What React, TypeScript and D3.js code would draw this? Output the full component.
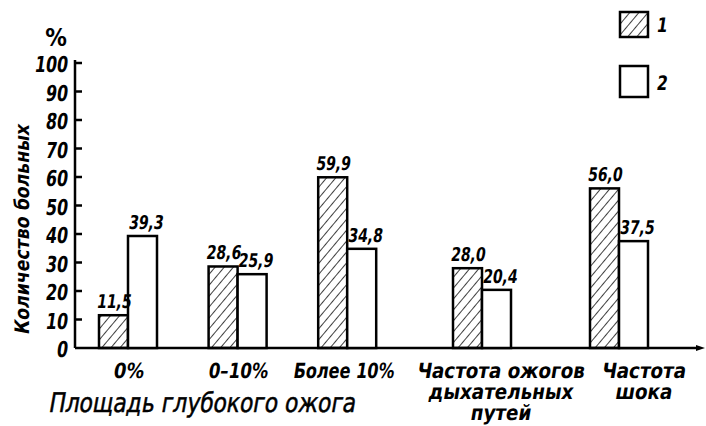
import React from "react";
import * as d3 from "d3";

const categories: string[][] = [
  ["0%"],
  ["0–10%"],
  ["Более 10%"],
  ["Частота ожогов", "дыхательных", "путей"],
  ["Частота", "шока"],
];
const groupSlots = [0, 1, 2, 3.23, 4.48];
const series1 = [11.5, 28.6, 59.9, 28.0, 56.0];
const series2 = [39.3, 25.9, 34.8, 20.4, 37.5];
const valueLabels1 = ["11,5", "28,6", "59,9", "28,0", "56,0"];
const valueLabels2 = ["39,3", "25,9", "34,8", "20,4", "37,5"];
const yTicks = [0, 10, 20, 30, 40, 50, 60, 70, 80, 90, 100];
const legendLabels = ["1", "2"];
const yTitle = "Количество больных";
const xTitle = "Площадь глубокого ожога";

const W = 706;
const H = 426;
const FONT = "'DejaVu Sans Condensed', 'DejaVu Sans', sans-serif";

function SText(props: {
  x: number;
  y: number;
  sx: number;
  size: number;
  anchor?: string;
  bold?: boolean;
  children: React.ReactNode;
}) {
  const { x, y, sx, size, anchor = "middle", bold = true, children } = props;
  return (
    <text
      x={0}
      y={0}
      transform={`translate(${x},${y}) scale(${sx},1) skewX(-10)`}
      textAnchor={anchor}
      fontSize={size}
      fontWeight={bold ? "bold" : "normal"}
    >
      {children}
    </text>
  );
}

export default function App() {
  const y = d3.scaleLinear().domain([0, 100]).range([348, 63]);
  const x = d3.scaleLinear().domain([0, 4.48]).range([128, 619]);
  const sub = d3.scaleBand<string>().domain(["1", "2"]).range([-29, 29]).padding(0);
  const bw = sub.bandwidth();
  const axisX = 75;
  const y0 = y(0);

  const labelDx = [0, 0, -4, 18, 24];
  const labelSx = [0.95, 0.88, 0.85, 0.97, 0.97];

  return (
    <svg
      width={W}
      height={H}
      style={{ position: "absolute", left: 0, top: 0, background: "#fff" }}
      fontFamily={FONT}
    >
      <defs>
        <pattern id="hatch" patternUnits="userSpaceOnUse" width={7} height={7} patternTransform="rotate(40)">
          <line x1={0} y1={0} x2={0} y2={7} stroke="#000" strokeWidth={1.5} />
        </pattern>
      </defs>

      {/* y axis */}
      <line x1={axisX} x2={axisX} y1={y(100) - 3} y2={y0} stroke="#000" strokeWidth={2.5} />
      {yTicks.map((t) => (
        <g key={t}>
          {t > 0 && (
            <line x1={axisX} x2={axisX + 7} y1={y(t)} y2={y(t)} stroke="#000" strokeWidth={2.5} />
          )}
          <SText x={67} y={y(t) + 9} sx={0.8} size={22} anchor="end">
            {t}
          </SText>
        </g>
      ))}
      <text x={56} y={46} textAnchor="middle" fontSize={24} fontWeight="bold">
        %
      </text>

      {/* x axis */}
      <line x1={axisX} x2={W - 8} y1={y0} y2={y0} stroke="#000" strokeWidth={2.5} />
      <path d={`M${W - 1},${y0} L${W - 10},${y0 - 3} L${W - 10},${y0 + 3} Z`} fill="#000" />

      {/* bars */}
      {series1.map((v, i) => {
        const cx = x(groupSlots[i]);
        const v2 = series2[i];
        const x1 = cx + (sub("1") as number);
        const x2 = cx + (sub("2") as number);
        return (
          <g key={i}>
            <rect x={x1} y={y(v)} width={bw} height={y0 - y(v)} fill="url(#hatch)" stroke="#000" strokeWidth={2.5} />
            <rect x={x2} y={y(v2)} width={bw} height={y0 - y(v2)} fill="#fff" stroke="#000" strokeWidth={2.5} />
            <SText x={x1 + bw / 2} y={y(v) - 7} sx={0.82} size={19}>
              {valueLabels1[i]}
            </SText>
            <SText x={x2 + bw / 2 + 3} y={y(v2) - 7} sx={0.82} size={19}>
              {valueLabels2[i]}
            </SText>
            {categories[i].map((line, j) => (
              <SText key={j} x={cx + labelDx[i]} y={y0 + 30 + j * 21} sx={labelSx[i]} size={21}>
                {line}
              </SText>
            ))}
          </g>
        );
      })}

      {/* axis titles */}
      <text
        transform={`translate(29,230) rotate(-90) skewX(-10)`}
        textAnchor="middle"
        fontSize={20}
        fontWeight="bold"
        textLength={210}
        lengthAdjust="spacingAndGlyphs"
      >
        {yTitle}
      </text>
      <text
        transform="translate(48,412) skewX(-10)"
        fontSize={27}
        textLength={307}
        lengthAdjust="spacingAndGlyphs"
        stroke="#000"
        strokeWidth={0.5}
      >
        {xTitle}
      </text>

      {/* legend */}
      {legendLabels.map((l, i) => (
        <g key={l}>
          <rect
            x={620}
            y={12 + i * 54}
            width={28}
            height={i === 0 ? 25 : 31}
            fill={i === 0 ? "url(#hatch)" : "#fff"}
            stroke="#000"
            strokeWidth={2.5}
          />
          <SText x={656} y={i === 0 ? 32 : 90} sx={0.85} size={20} anchor="start">
            {l}
          </SText>
        </g>
      ))}
    </svg>
  );
}
